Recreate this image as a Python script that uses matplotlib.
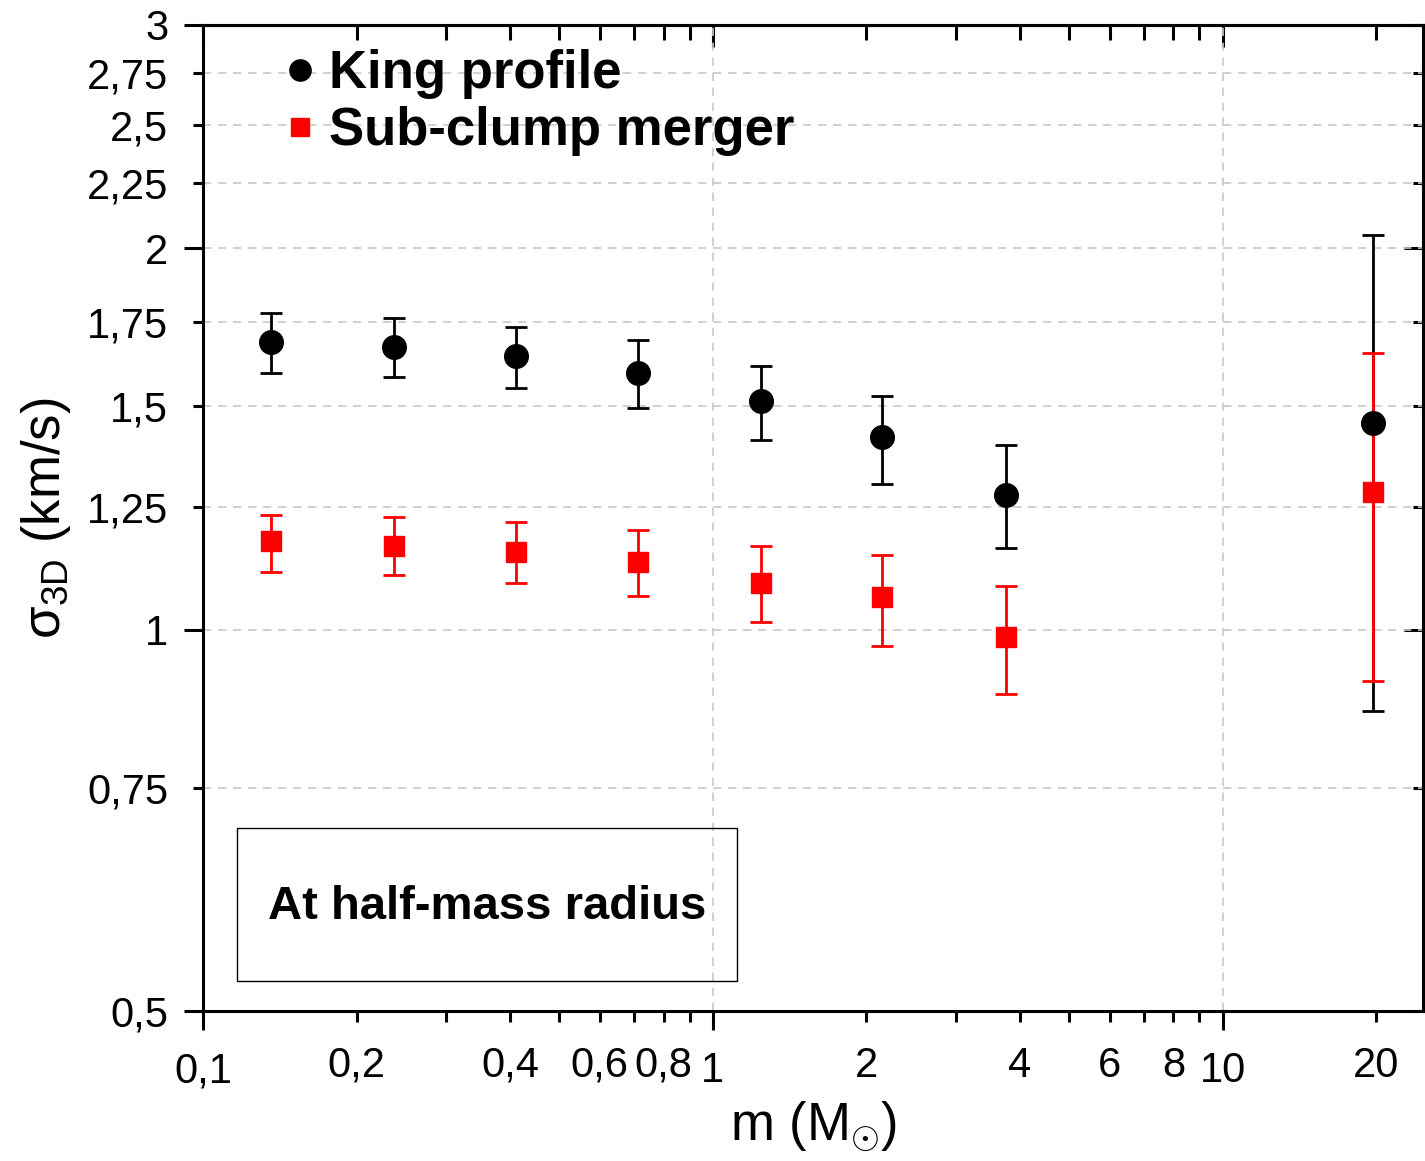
import matplotlib.pyplot as plt
from matplotlib.patches import Rectangle
from matplotlib.ticker import FixedLocator, NullFormatter

plt.rcParams['font.family'] = ['Liberation Sans', 'DejaVu Sans']
plt.rcParams['mathtext.fontset'] = 'custom'
plt.rcParams['mathtext.rm'] = 'Liberation Sans'
plt.rcParams['mathtext.it'] = 'Liberation Sans'

# data
mass = [0.136, 0.237, 0.411, 0.713, 1.24, 2.15, 3.75, 19.7]

king = [1.685, 1.672, 1.645, 1.595, 1.514, 1.418, 1.278, 1.455]
king_hi = [1.776, 1.763, 1.734, 1.691, 1.613, 1.530, 1.398, 2.047]
king_lo = [1.595, 1.581, 1.552, 1.497, 1.410, 1.302, 1.159, 0.862]

merger = [1.174, 1.165, 1.152, 1.131, 1.089, 1.060, 0.987, 1.283]
merger_hi = [1.232, 1.228, 1.215, 1.199, 1.163, 1.146, 1.083, 1.652]
merger_lo = [1.111, 1.105, 1.089, 1.062, 1.013, 0.971, 0.890, 0.910]

y_major = [0.5, 1, 2, 3]
y_major_labels = ['0,5', '1', '2', '3']
y_minor = [0.75, 1.25, 1.5, 1.75, 2.25, 2.5, 2.75]
y_minor_labels = ['0,75', '1,25', '1,5', '1,75', '2,25', '2,5', '2,75']

x_major = [0.1, 1, 10]
x_major_labels = ['0,1', '1', '10']
x_minor = [0.2, 0.3, 0.4, 0.5, 0.6, 0.7, 0.8, 0.9, 2, 3, 4, 5, 6, 7, 8, 9, 20]
x_minor_labels = ['0,2', '', '0,4', '', '0,6', '', '0,8', '',
                  '2', '', '4', '', '6', '', '8', '', '20']

fig = plt.figure(figsize=(14.25, 11.61), dpi=100)
ax = fig.add_axes([0.1425, 0.1292, 0.8561, 0.8493])
ax.set_xscale('log')
ax.set_yscale('log')
ax.set_xlim(0.1, 24.7)
ax.set_ylim(0.5, 3)

def errs(v, lo, hi):
    return [[a - b for a, b in zip(v, lo)], [c - a for a, c in zip(v, hi)]]

ax.errorbar(mass, king, yerr=errs(king, king_lo, king_hi), fmt='none',
            ecolor='black', elinewidth=2.0, capsize=8, capthick=2.0, zorder=3)
ax.errorbar(mass, merger, yerr=errs(merger, merger_lo, merger_hi), fmt='none',
            ecolor='red', elinewidth=2.0, capsize=8, capthick=2.0, zorder=3.5)
ax.plot(mass, king, 'o', color='black', ms=17, zorder=4, label='King profile')
ax.plot(mass, merger, 's', color='red', ms=14.5, zorder=4.5, label='Sub-clump merger')

# ticks
ax.yaxis.set_major_locator(FixedLocator(y_major))
ax.yaxis.set_minor_locator(FixedLocator(y_minor))
ax.set_yticklabels(y_major_labels)
ax.set_yticklabels(y_minor_labels, minor=True)
ax.xaxis.set_major_locator(FixedLocator(x_major))
ax.xaxis.set_minor_locator(FixedLocator(x_minor))
ax.set_xticklabels(x_major_labels)
ax.set_xticklabels(x_minor_labels, minor=True)

ax.tick_params(axis='both', which='both', labelsize=30, width=2.2, direction='out')
ax.tick_params(axis='y', which='major', length=14, pad=11)
ax.tick_params(axis='y', which='minor', length=7, pad=18)
ax.tick_params(axis='x', which='major', length=14, pad=15)
ax.tick_params(axis='x', which='minor', length=8, pad=17)

for s in ax.spines.values():
    s.set_linewidth(2.2)

# inward ticks on right and top
ry = ax.secondary_yaxis('right')
ry.yaxis.set_major_locator(FixedLocator(y_major))
ry.yaxis.set_minor_locator(FixedLocator(y_minor))
ry.yaxis.set_major_formatter(NullFormatter())
ry.yaxis.set_minor_formatter(NullFormatter())
ry.tick_params(which='both', direction='in', width=2.2)
ry.tick_params(which='major', length=14)
ry.tick_params(which='minor', length=7)
ry.spines['right'].set_linewidth(2.2)

tx = ax.secondary_xaxis('top')
tx.xaxis.set_major_locator(FixedLocator(x_major))
tx.xaxis.set_minor_locator(FixedLocator(x_minor))
tx.xaxis.set_major_formatter(NullFormatter())
tx.xaxis.set_minor_formatter(NullFormatter())
tx.tick_params(which='both', direction='in', width=2.2)
tx.tick_params(which='major', length=16)
tx.tick_params(which='minor', length=11)
tx.spines['top'].set_linewidth(2.2)

# grid
for v in y_major[1:-1] + y_minor:
    ax.axhline(v, color='#c8c8c8', lw=1.2, ls=(0, (5, 4)), zorder=1)
for v in x_major[1:]:
    ax.axvline(v, color='#c8c8c8', lw=1.2, ls=(0, (5, 4)), zorder=1)

ax.set_xlabel(r'm (M$_{\odot}$)', fontsize=38, labelpad=6)
ax.set_ylabel(r'σ$_{\rm 3D}$ (km/s)', fontsize=38, labelpad=10)

leg = ax.legend(loc='upper left', bbox_to_anchor=(0.03, 1.013), frameon=False,
                prop={'size': 38, 'weight': 'bold'}, handletextpad=0.1,
                labelspacing=0.14, markerscale=0.9, handlelength=0.9,
                borderaxespad=0.3)

ax.add_patch(Rectangle((0.028, 0.0304), 0.4097, 0.1552, transform=ax.transAxes,
                       fill=False, edgecolor='black', lw=1, zorder=5))
ax.text(0.2325, 0.105, 'At half-mass radius', transform=ax.transAxes,
        ha='center', va='center', fontsize=34, fontweight='bold', zorder=6)

fig.savefig('out.png', dpi=100)
